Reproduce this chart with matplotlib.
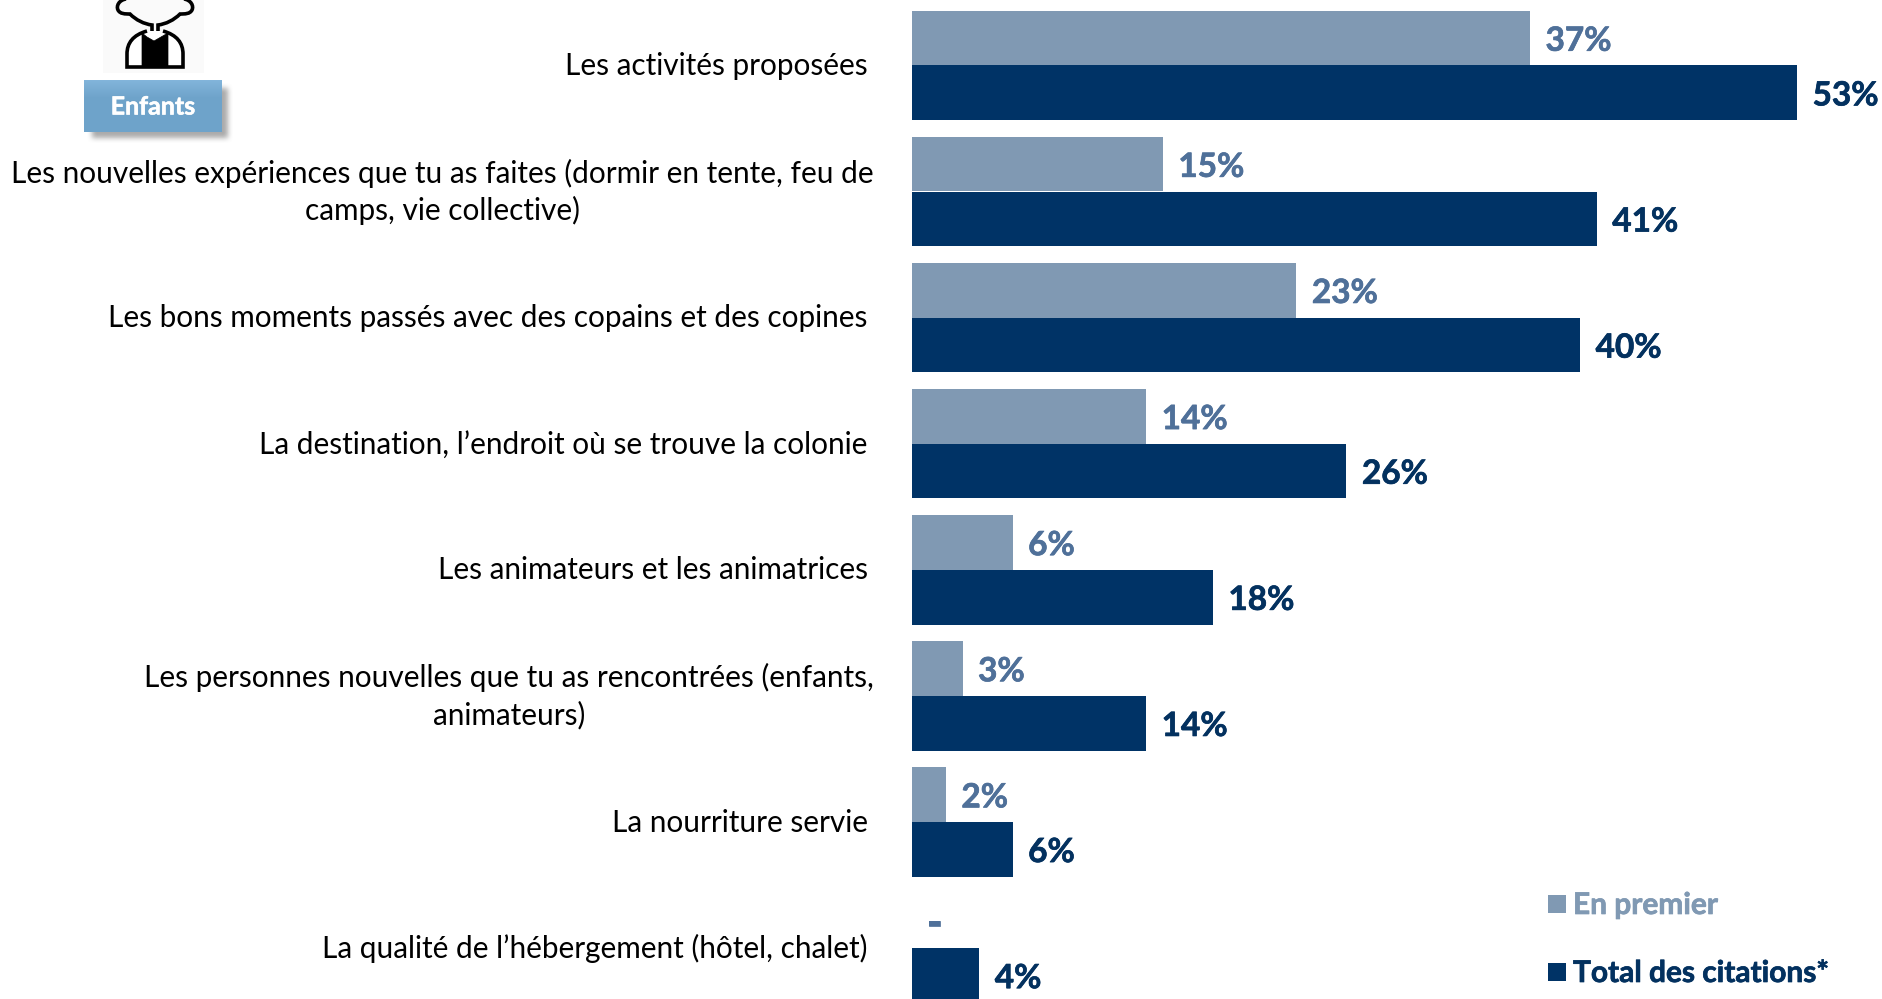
import numpy as np
import matplotlib
matplotlib.use("Agg")
import matplotlib.pyplot as plt
import matplotlib.patheffects as pe
from matplotlib.patches import Rectangle, PathPatch
from matplotlib.path import Path

categories = [
    "Les activités proposées ",
    "Les nouvelles expériences que tu as faites (dormir en tente, feu de\ncamps, vie collective)",
    "Les bons moments passés avec des copains et des copines ",
    "La destination, l’endroit où se trouve la colonie ",
    "Les animateurs et les animatrices ",
    "Les personnes nouvelles que tu as rencontrées (enfants,\nanimateurs)",
    "La nourriture servie ",
    "La qualité de l’hébergement (hôtel, chalet) ",
]
en_premier = [37, 15, 23, 14, 6, 3, 2, None]
total_citations = [53, 41, 40, 26, 18, 14, 6, 4]
series_names = ["En premier", "Total des citations*"]
badge_label = "Enfants"

LIGHT, DARK = "#8099B3", "#003366"
LIGHT_TXT, DARK_TXT = "#4F7099", "#03315F"
W, H = 1883, 999
plt.rcParams["font.family"] = ["Lato", "DejaVu Sans"]
fig = plt.figure(figsize=(W / 100, H / 100), dpi=100, facecolor="white")

# overlay in pixel coordinates for decorations
deco = fig.add_axes([0, 0, 1, 1], zorder=3)
deco.set_xlim(0, W); deco.set_ylim(H, 0); deco.axis("off"); deco.patch.set_alpha(0)

# chart axes
X0, PX, ROW, Y0, BH = 912.5, 16.69, 126.1, 65.4, 54.7
ax = fig.add_axes([X0 / W, 0, 1 - X0 / W, 1], zorder=2)
ax.set_xlim(0, (W - X0) / PX)
ax.set_ylim((H - Y0) / ROW, -Y0 / ROW)
ax.axis("off")
h = BH / ROW
y = np.arange(len(categories))
v1 = [0 if v is None else v for v in en_premier]
ax.barh(y - h / 2, v1, height=h, color=LIGHT)
ax.barh(y + h / 2, total_citations, height=h, color=DARK)
pad = 15.5 / PX
dy = 3.2 / ROW
bold = lambda c: [pe.withStroke(linewidth=0.5, foreground=c)]
for i, (a, b) in enumerate(zip(en_premier, total_citations)):
    if a is None:
        ax.text(1.3, i - h / 2 + dy, "-", color=LIGHT_TXT, fontsize=30, fontweight="bold", ha="center", va="center",
                path_effects=bold(LIGHT_TXT))
    else:
        ax.text(a + pad, i - h / 2 + dy, f"{a}%", color=LIGHT_TXT, fontsize=24, fontweight="bold", va="center",
                path_effects=bold(LIGHT_TXT))
    ax.text(b + pad, i + h / 2 + dy, f"{b}%", color=DARK_TXT, fontsize=24, fontweight="bold", va="center",
            clip_on=False, path_effects=bold(DARK_TXT))

# category labels
for i, c in enumerate(categories):
    multi = "\n" in c
    yy = Y0 + ROW * i + (0.4 if multi else 0.6)
    deco.text(874 if multi else 875.5, yy, c, ha="right", va="center", multialignment="center",
              fontsize=21.4, color="black", linespacing=1.34)

# legend
for (name, col, tc, top) in [(series_names[0], LIGHT, LIGHT, 895), (series_names[1], DARK, DARK_TXT, 963)]:
    deco.add_patch(Rectangle((1548, top), 18, 18, color=col, lw=0))
    deco.text(1573, top + 10, name, color=tc, fontsize=21.5, fontweight="bold", va="center",
              path_effects=bold(tc))

# badge with soft shadow and gradient
def blur(a, n=5):
    k = np.ones(n) / n
    for _ in range(2):
        a = np.apply_along_axis(lambda r: np.convolve(r, k, mode="same"), 0, a)
        a = np.apply_along_axis(lambda r: np.convolve(r, k, mode="same"), 1, a)
    return a
sx0, sy0, sw, sh = 74, 70, 170, 84
m = np.zeros((sh, sw)); m[14:64, 14:150] = 1
m = blur(m, 6)
rgba = np.zeros((sh, sw, 4)); rgba[..., :3] = 0.45; rgba[..., 3] = m * 0.6
deco.imshow(rgba, extent=(sx0 + 3, sx0 + sw + 3, sy0 + sh + 3, sy0 + 3), zorder=1, aspect="auto")
grad = np.linspace(0, 1, 52)[:, None]
c1, c2 = np.array(matplotlib.colors.to_rgb("#82B4DA")), np.array(matplotlib.colors.to_rgb("#6EA3CA"))
g = np.clip(grad / 0.35, 0, 1)[..., None] * (c2 - c1) + c1
deco.imshow(g, extent=(84, 222, 132, 80), zorder=2, aspect="auto")
deco.text(153, 107, badge_label, color="white", fontsize=18, fontweight="bold", ha="center", va="center", zorder=4,
          path_effects=[pe.withStroke(linewidth=0.4, foreground="white")])
deco.set_xlim(0, W); deco.set_ylim(H, 0)

# person pictogram
deco.add_patch(Rectangle((103, 0), 101, 73, color="#FAFAFA", lw=0, zorder=1))
lw = 2.6
M, L, C = Path.MOVETO, Path.LINETO, Path.CURVE4
head_l = [(126, -1), (119, 0), (116, 6), (118, 10), (120, 14), (125, 14), (130, 14),
          (136, 20), (144, 24), (152, 25), (152, 32)]
codes = [M, C, C, C, C, C, C, C, C, C, L]
deco.add_patch(PathPatch(Path(head_l, codes), fill=False, ec="black", lw=lw, zorder=3))
head_r = [(310 - px, py) for px, py in head_l]
deco.add_patch(PathPatch(Path(head_r, codes), fill=False, ec="black", lw=lw, zorder=3))
body = Path([(147, 31), (133, 35), (127, 43), (127, 54), (127, 67), (183, 67), (183, 54), (183, 43), (177, 35), (163, 31)],
            [M, C, C, C, L, L, L, C, C, C])
deco.add_patch(PathPatch(body, fc="white", ec="black", lw=lw, zorder=3))
vest = Path([(142, 33), (147, 37), (154, 41), (161, 37), (168, 33), (168, 67), (142, 67), (142, 33)],
            [M, L, L, L, L, L, L, Path.CLOSEPOLY])
deco.add_patch(PathPatch(vest, fc="black", ec="black", lw=0.5, zorder=4))

fig.savefig("out.png", dpi=100, facecolor="white")
